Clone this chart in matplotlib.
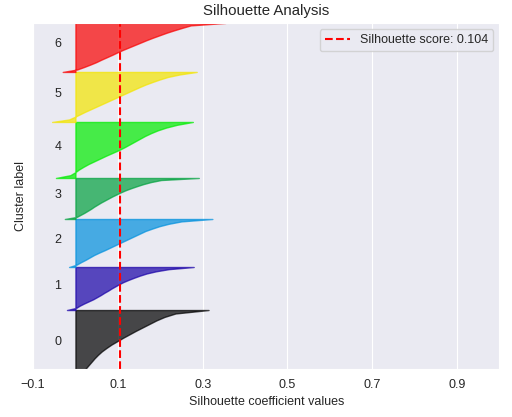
import numpy as np
import matplotlib
matplotlib.use("Agg")
import matplotlib.pyplot as plt
import matplotlib.cm as cm
import seaborn as sns

sns.set_style("darkgrid")
plt.rcParams['font.family'] = ['Liberation Sans', 'DejaVu Sans']
plt.rcParams['font.size'] = 9

# silhouette values for each cluster, sorted, sampled evenly from bottom to top
sil_c0 = [-0.010, 0.005, 0.016, 0.024, 0.031, 0.038, 0.045, 0.053, 0.062, 0.073, 0.085,
          0.099, 0.113, 0.128, 0.143, 0.159, 0.175, 0.191, 0.210, 0.236, 0.314]
sil_c1 = [-0.020, 0.002, 0.010, 0.020, 0.031, 0.042, 0.051, 0.060, 0.068, 0.077, 0.085,
          0.094, 0.103, 0.113, 0.125, 0.138, 0.152, 0.168, 0.190, 0.220, 0.279]
sil_c2 = [-0.015, 0.003, 0.013, 0.024, 0.034, 0.044, 0.056, 0.069, 0.081, 0.093, 0.105,
          0.117, 0.129, 0.141, 0.153, 0.165, 0.181, 0.198, 0.220, 0.250, 0.323]
sil_c3 = [-0.025, 0.003, 0.012, 0.021, 0.029, 0.037, 0.044, 0.052, 0.060, 0.069, 0.078,
          0.087, 0.097, 0.107, 0.118, 0.131, 0.145, 0.160, 0.178, 0.202, 0.291]
sil_c4 = [-0.046, -0.012, -0.001, 0.008, 0.019, 0.031, 0.045, 0.059, 0.073, 0.088, 0.103,
          0.116, 0.128, 0.140, 0.152, 0.164, 0.178, 0.194, 0.214, 0.240, 0.277]
sil_c5 = [-0.055, -0.015, -0.002, 0.010, 0.022, 0.035, 0.048, 0.061, 0.074, 0.087, 0.100,
          0.113, 0.126, 0.139, 0.152, 0.166, 0.182, 0.199, 0.218, 0.246, 0.286]
sil_c6 = [-0.030, 0.004, 0.020, 0.035, 0.049, 0.061, 0.074, 0.087, 0.099, 0.112, 0.126,
          0.140, 0.154, 0.168, 0.183, 0.199, 0.215, 0.233, 0.252, 0.272, 0.354]
cluster_values = [sil_c0, sil_c1, sil_c2, sil_c3, sil_c4, sil_c5, sil_c6]

# number of samples in each cluster
cluster_sizes = [69, 43, 48, 41, 56, 50, 49]

silhouette_avg = 0.104
n_clusters = len(cluster_values)

fig = plt.figure(figsize=(5.12, 4.17), dpi=100)
ax = fig.add_axes([0.0645, 0.115, 0.911, 0.83])

y_lower = 0
for i in range(n_clusters):
    vals = np.array(cluster_values[i])
    size = cluster_sizes[i]
    y_upper = y_lower + size
    color = cm.nipy_spectral(float(i) / n_clusters)
    ax.fill_betweenx(np.linspace(y_lower, y_upper, len(vals)), 0, vals,
                     facecolor=color, edgecolor=color, alpha=0.7)
    # label the cluster in the middle of its band
    ax.text(-0.05, y_lower + 0.5 * size, str(i), color='.15')
    y_lower = y_upper

ax.axvline(x=silhouette_avg, color="red", linestyle="--",
           label="Silhouette score: %.3f" % silhouette_avg)

ax.set_xlim(-0.1, 1)
ax.set_ylim(10, y_lower)
ax.set_yticks([])
ax.set_xticks([-0.1, 0.1, 0.3, 0.5, 0.7, 0.9])
ax.set_xlabel("Silhouette coefficient values")
ax.set_ylabel("Cluster label")
ax.set_title("Silhouette Analysis")
ax.legend(loc="upper right")

plt.savefig("out.png", dpi=100)
